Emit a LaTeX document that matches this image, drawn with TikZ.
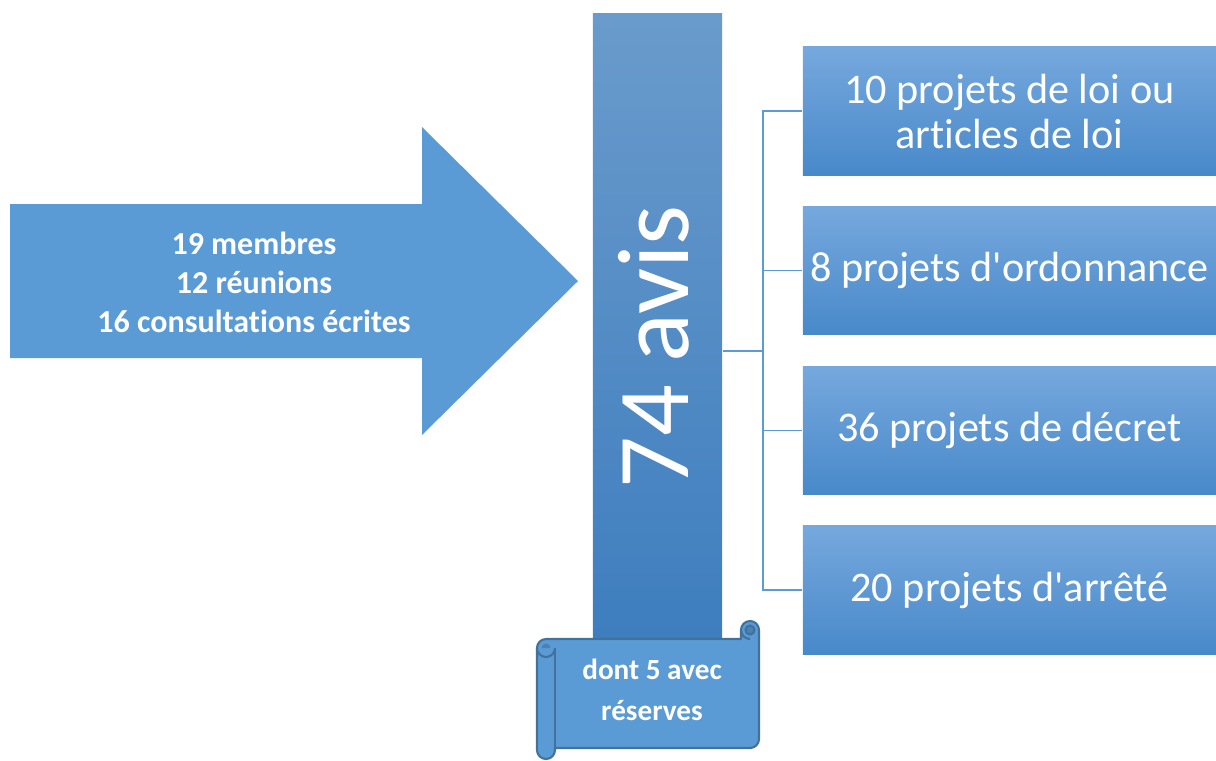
\documentclass[tikz,border=0pt]{standalone}
\usepackage{fontspec}
\setmainfont{Carlito}[Ligatures={TeXOff,NoCommon}]
\usepackage{tikz}
\usetikzlibrary{positioning,calc}
\definecolor{accent}{RGB}{91,155,213}
\definecolor{accentdark}{RGB}{65,113,156}
\definecolor{bartop}{RGB}{106,155,204}
\definecolor{barbot}{RGB}{61,125,190}
\definecolor{boxtop}{RGB}{118,168,221}
\definecolor{boxmid}{RGB}{91,155,216}
\definecolor{boxbot}{RGB}{72,137,202}
\begin{document}
\begin{tikzpicture}[x=0.01cm,y=-0.01cm,
  box/.style={shade,top color=boxtop,middle color=boxmid,bottom color=boxbot,minimum width=4.13cm,minimum height=1.28cm,inner sep=0pt,text=white,align=center,font=\fontsize{12}{12.8}\selectfont},
  link/.style={draw=accent,line width=0.45pt},
  scroll/.style={fill=accent,draw=accentdark,line width=0.6pt,line join=round}]
\useasboundingbox (0,0) rectangle (1216,760);
% big arrow
\fill[accent] (10,204) coordinate(A) -- (422,204) -- (422,127) -- (578,281) coordinate(tip) -- (422,435) -- (422,358) -- (10,358) -- cycle;
\node[text=white,align=center,font=\fontsize{9.1}{11.1}\selectfont\bfseries] (facts) at (254,282) {19 membres\\12 réunions\\16 consultations écrites};
% bar
\node[shade,top color=bartop,bottom color=barbot,minimum width=1.29cm,minimum height=6.36cm,inner sep=0pt] (bar) at (657.5,332) {};
\node[rotate=90,anchor=base,text=white,font=\fontsize{29}{29}\selectfont] (avis) at (688,347) {74 avis};
% boxes
\node[box] (loi) at (1009.5,111) {10 projets de loi ou\\articles de loi};
\node[box] (ord) at (1009.5,270.5) {8 projets d'ordonnance};
\node[box] (dec) at (1009.5,430.5) {36 projets de décret};
\node[box] (arr) at (1009.5,590) {20 projets d'arrêté};
% connectors
\coordinate (hub) at (763,351);
\draw[link] (bar.east |- hub) -- (hub);
\foreach \b in {loi,ord,dec,arr} \draw[link] (hub) |- (\b.west);
% scroll
\draw[scroll] (537,648) arc[start angle=180,end angle=270,radius=9] -- (741,639) -- (741,630) arc[start angle=180,end angle=360,radius=9] -- (759,739) arc[start angle=0,end angle=90,radius=9] -- (555,748) -- (555,750) arc[start angle=0,end angle=180,radius=9] -- cycle;
\draw[scroll] (555,648) arc[start angle=0,end angle=180,radius=9];
\draw[accentdark,line width=0.6pt] (555,648) -- (555,748);
\fill[accentdark!60!accent] (550.5,648) arc[start angle=0,end angle=-180,radius=4.5] -- cycle;
\draw[accentdark,line width=0.6pt] (741,630) arc[start angle=180,end angle=90,radius=9] coordinate(rc);
\fill[accentdark!60!accent] (750,630) circle (4.5);
\draw[accentdark,line width=0.6pt] (750,630) circle (4.5);
\node[text=white,align=center,font=\fontsize{8.3}{11.7}\selectfont\bfseries] (res) at (652,690) {dont 5 avec\\réserves};
\end{tikzpicture}
\end{document}
